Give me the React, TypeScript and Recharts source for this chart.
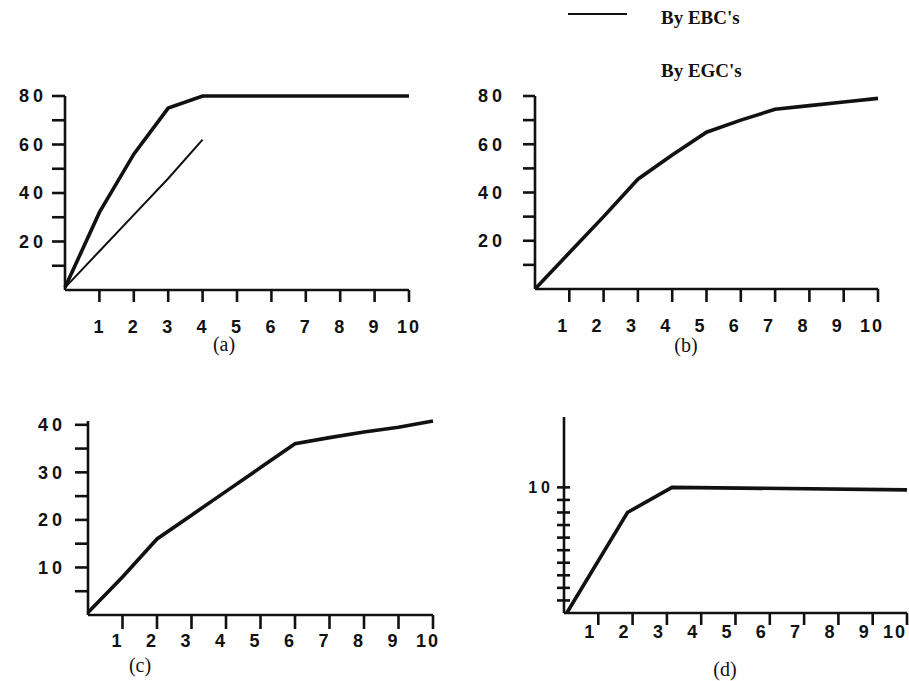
import React from "react";
import { LineChart, Line, XAxis, YAxis } from "recharts";

// x positions shared by panels (a), (b), (c)
const steps = [0, 1, 2, 3, 4, 5, 6, 7, 8, 9, 10];
const xTicks = [1, 2, 3, 4, 5, 6, 7, 8, 9, 10];

// (a)
const ebcA = [1, 32, 56, 75, 80, 80, 80, 80, 80, 80, 80];
const egcA = [1, 16, 31, 46, 62];
const yTicksA = [10, 20, 30, 40, 50, 60, 70, 80];

// (b)
const ebcB = [0, 15, 30, 45.5, 55.5, 65, 70, 74.5, 76, 77.5, 79];
const yTicksB = [10, 20, 30, 40, 50, 60, 70, 80];

// (c)
const ebcC = [0.5, 8, 16, 21, 26, 31, 36, 37.3, 38.5, 39.5, 40.8];
const yTicksC = [5, 10, 15, 20, 25, 30, 35, 40];

// (d)
const xD = [0.08, 1.85, 3.15, 10];
const ebcD = [0, 8, 10, 9.8];
const yTicksD = [1, 2, 3, 4, 5, 6, 7, 8, 9, 10];

const legendItems = [
  { name: "By EBC's", line: true },
  { name: "By EGC's", line: false },
];

const dataA = steps.map((x, i) => ({ x, ebc: ebcA[i], egc: egcA[i] }));
const dataB = steps.map((x, i) => ({ x, ebc: ebcB[i] }));
const dataC = steps.map((x, i) => ({ x, ebc: ebcC[i] }));
const dataD = xD.map((x, i) => ({ x, ebc: ebcD[i] }));

const INK = "#111";
const SANS = "Liberation Sans, Arial, sans-serif";
const tickFont = { fill: INK, fontSize: 18, fontWeight: 700, fontFamily: SANS };
const axisLine = { stroke: INK, strokeWidth: 2.6 };
const tickLine = { stroke: INK, strokeWidth: 2.6 };

function DYTick(props: any) {
  const { x, y, payload } = props;
  return (
    <g>
      <line x1={x - 7} x2={x + 6} y1={y} y2={y} stroke={INK} strokeWidth={2.6} />
      {payload.value === 10 && (
        <text
          x={x - 10}
          y={y}
          dy="0.35em"
          textAnchor="end"
          fill={INK}
          fontSize={16}
          fontWeight={700}
          fontFamily={SANS}
          letterSpacing={4}
        >
          {payload.value}
        </text>
      )}
    </g>
  );
}

// labels sit a little left of their ticks; the last one stays inside the page
function DXTick(props: any) {
  const { x, y, payload } = props;
  return (
    <text
      x={Math.min(x - 8, 396)}
      y={y}
      dy="0.71em"
      textAnchor="middle"
      fill={INK}
      fontSize={18}
      fontWeight={700}
      fontFamily={SANS}
      letterSpacing={2}
    >
      {payload.value}
    </text>
  );
}

function Caption({ text, cx, top }: { text: string; cx: number; top: number }) {
  return (
    <div
      style={{
        position: "absolute",
        left: cx - 30,
        top,
        width: 60,
        textAlign: "center",
        fontFamily: "Liberation Serif, Times New Roman, serif",
        fontSize: 20,
        lineHeight: "20px",
        color: INK,
      }}
    >
      {text}
    </div>
  );
}

export default function App() {
  return (
    <div
      style={{
        position: "absolute",
        left: 0,
        top: 0,
        width: 909,
        height: 681,
        background: "#fff",
        overflow: "hidden",
      }}
    >
      {/* legend */}
      {legendItems.map((item, i) => (
        <div key={item.name}>
          {item.line && (
            <div
              style={{
                position: "absolute",
                left: 568,
                top: 13 + i * 54,
                width: 59,
                height: 2,
                background: INK,
              }}
            />
          )}
          <div
            style={{
              position: "absolute",
              left: 661,
              top: 8 + i * 53,
              fontFamily: "Liberation Serif, Times New Roman, serif",
              fontWeight: 700,
              fontSize: 19,
              lineHeight: "20px",
              color: INK,
              whiteSpace: "nowrap",
            }}
          >
            {item.name}
          </div>
        </div>
      ))}

      {/* (a) */}
      <div style={{ position: "absolute", left: 0, top: 80 }}>
        <LineChart width={440} height={260} data={dataA} margin={{ top: 16, right: 31, left: 0, bottom: 0 }}>
          <XAxis
            dataKey="x"
            type="number"
            domain={[0, 10]}
            ticks={xTicks}
            interval={0}
            height={50}
            tickSize={12}
            tickMargin={18}
            axisLine={axisLine}
            tickLine={tickLine}
            tick={{ ...tickFont, letterSpacing: 2 }}
          />
          <YAxis
            type="number"
            domain={[0, 80]}
            ticks={yTicksA}
            interval={0}
            width={65}
            tickSize={13}
            tickMargin={5}
            axisLine={axisLine}
            tickLine={tickLine}
            tick={{ ...tickFont, letterSpacing: 4 }}
            tickFormatter={(v: number) => (v % 20 === 0 ? String(v) : "")}
          />
          <Line dataKey="ebc" type="linear" stroke={INK} strokeWidth={3.6} dot={false} isAnimationActive={false} />
          <Line dataKey="egc" type="linear" stroke={INK} strokeWidth={2} dot={false} isAnimationActive={false} />
        </LineChart>
      </div>
      <Caption text="(a)" cx={224} top={334} />

      {/* (b) */}
      <div style={{ position: "absolute", left: 470, top: 80 }}>
        <LineChart width={439} height={259} data={dataB} margin={{ top: 16, right: 31, left: 0, bottom: 0 }}>
          <XAxis
            dataKey="x"
            type="number"
            domain={[0, 10]}
            ticks={xTicks}
            interval={0}
            height={50}
            tickSize={13}
            tickMargin={17}
            axisLine={axisLine}
            tickLine={tickLine}
            tick={{ ...tickFont, letterSpacing: 2, dx: -6 }}
          />
          <YAxis
            type="number"
            domain={[0, 80]}
            ticks={yTicksB}
            interval={0}
            width={65}
            tickSize={12}
            tickMargin={17}
            axisLine={axisLine}
            tickLine={tickLine}
            tick={{ ...tickFont, letterSpacing: 4 }}
            tickFormatter={(v: number) => (v % 20 === 0 ? String(v) : "")}
          />
          <Line dataKey="ebc" type="linear" stroke={INK} strokeWidth={3.6} dot={false} isAnimationActive={false} />
        </LineChart>
      </div>
      <Caption text="(b)" cx={686} top={335} />

      {/* (c) */}
      <div style={{ position: "absolute", left: 23, top: 405 }}>
        <LineChart width={440} height={260} data={dataC} margin={{ top: 16, right: 30, left: 0, bottom: 0 }}>
          <XAxis
            dataKey="x"
            type="number"
            domain={[0, 10]}
            ticks={xTicks}
            interval={0}
            height={50}
            tickSize={14}
            tickMargin={5}
            axisLine={axisLine}
            tickLine={tickLine}
            tick={{ ...tickFont, letterSpacing: 2, dx: -5 }}
          />
          <YAxis
            type="number"
            domain={[0, 40]}
            ticks={yTicksC}
            interval={0}
            width={65}
            tickSize={13}
            tickMargin={9}
            axisLine={axisLine}
            tickLine={tickLine}
            tick={{ ...tickFont, letterSpacing: 4 }}
            tickFormatter={(v: number) => (v % 10 === 0 ? String(v) : "")}
          />
          <Line dataKey="ebc" type="linear" stroke={INK} strokeWidth={3.6} dot={false} isAnimationActive={false} />
        </LineChart>
      </div>
      <Caption text="(c)" cx={140} top={655} />

      {/* (d) */}
      <div style={{ position: "absolute", left: 499, top: 401 }}>
        <LineChart width={410} height={262} data={dataD} margin={{ top: 16, right: 2, left: 0, bottom: 0 }}>
          <XAxis
            dataKey="x"
            type="number"
            domain={[0, 10]}
            ticks={xTicks}
            interval={0}
            height={50}
            tickSize={12}
            tickMargin={0}
            axisLine={axisLine}
            tickLine={tickLine}
            tick={<DXTick />}
          />
          <YAxis
            type="number"
            domain={[0, 15.6]}
            ticks={yTicksD}
            interval={0}
            width={65}
            tickSize={0}
            tickMargin={0}
            axisLine={axisLine}
            tickLine={false}
            tick={<DYTick />}
          />
          <Line dataKey="ebc" type="linear" stroke={INK} strokeWidth={3.6} dot={false} isAnimationActive={false} />
        </LineChart>
      </div>
      <Caption text="(d)" cx={725} top={659} />
    </div>
  );
}
